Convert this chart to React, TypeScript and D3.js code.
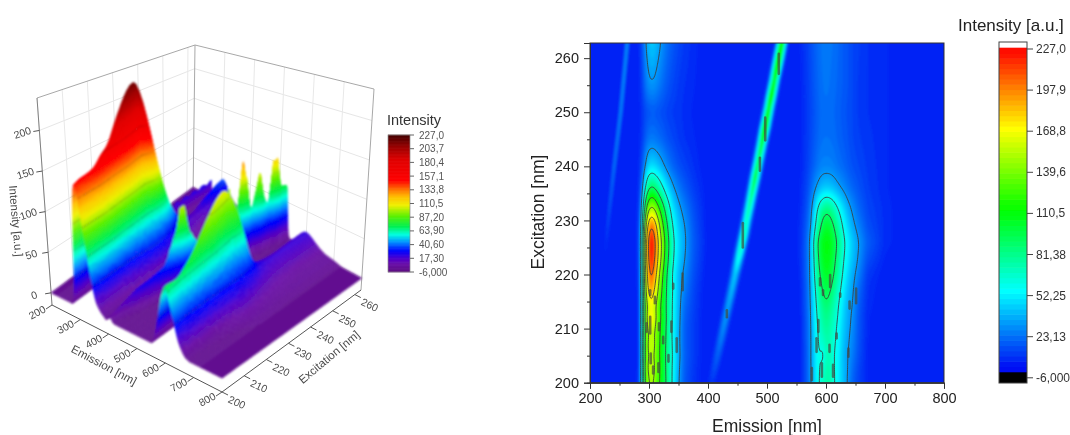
import React, { useEffect, useRef } from "react";
import * as d3 from "d3";

const FONT = "'Liberation Sans', Arial, sans-serif";
const EX_MAX = 262.8;

// intensity table: one row per excitation, one column per emission
const emission = [200, 250, 272, 283, 287, 291, 295, 300, 305, 310, 316, 322, 330, 340, 350, 360, 375, 400, 450, 520, 555, 568, 575, 582, 588, 594, 600, 606, 612, 620, 628, 636, 645, 655, 670, 700, 750, 800];
const excitation = [200, 203, 205, 207, 208.5, 210, 212, 214, 217, 220, 223, 226, 229, 232, 236, 240, 245, 250, 255, EX_MAX];
const intensity = [
  [-5, -5, -3, 6, 30, 95, 130, 145, 150, 140, 122, 105, 84, 55, 30, 14, 6, -2, -4, -3, 0, 15, 30, 45, 58, 66, 72, 75, 62, 50, 40, 29, 16, 9, 2, -2, -4, -5],
  [-5, -5, -3, 5, 29, 96, 138, 154, 160, 146, 124, 106, 82, 56, 32, 15, 7, -2, -4, -3, 0, 15, 30, 46, 59, 60, 70, 72, 61, 51, 39, 30, 19, 10, 2, -2, -4, -5],
  [-5, -5, -3, 4, 27, 90, 132, 148, 150, 142, 120, 108, 80, 58, 34, 16, 8, -2, -4, -3, 0, 15, 31, 46, 60, 52, 66, 70, 60, 52, 38, 30, 22, 12, 2, -2, -4, -5],
  [-5, -5, -3, 4, 27, 92, 134, 156, 164, 146, 122, 106, 82, 56, 33, 15, 8, -2, -4, -3, 0, 15, 30, 48, 61, 60, 70, 71, 62, 53, 40, 31, 24, 13, 2, -2, -4, -5],
  [-5, -5, -3, 5, 28, 93, 130, 148, 154, 144, 124, 106, 84, 55, 33, 15, 8, -2, -4, -3, 0, 16, 30, 49, 62, 66, 73, 72, 64, 54, 41, 32, 25, 13, 3, -2, -4, -5],
  [-5, -5, -3, 5, 28, 95, 132, 155, 162, 146, 126, 106, 84, 54, 33, 15, 8, -2, -4, -3, 0, 16, 30, 50, 62, 70, 76, 72, 66, 55, 42, 33, 26, 14, 3, -2, -4, -5],
  [-5, -5, -3, 5, 28, 98, 140, 170, 180, 155, 132, 110, 86, 56, 34, 16, 8, -2, -4, -3, 0, 16, 31, 52, 65, 74, 80, 76, 68, 58, 44, 34, 27, 14, 3, -2, -4, -5],
  [-5, -5, -3, 5, 28, 92, 132, 158, 166, 150, 128, 108, 84, 56, 34, 18, 9, -2, -4, -3, 1, 17, 32, 54, 68, 78, 84, 80, 72, 60, 46, 35, 29, 15, 4, -1, -4, -5],
  [-5, -5, -3, 5, 28, 100, 150, 185, 192, 170, 142, 115, 85, 58, 36, 22, 10, -2, -4, -3, 1, 17, 34, 58, 76, 88, 94, 90, 80, 66, 52, 38, 31, 18, 5, -1, -4, -5],
  [-5, -5, -3, 6, 30, 100, 160, 200, 212, 188, 155, 122, 88, 56, 36, 26, 12, -1, -4, -3, 2, 18, 36, 65, 84, 96, 102, 100, 90, 74, 58, 44, 33, 24, 7, 0, -3, -5],
  [-5, -5, -3, 7, 30, 105, 170, 215, 224, 206, 170, 138, 98, 62, 42, 30, 14, 0, -4, -3, 3, 18, 37, 70, 90, 103, 108, 106, 96, 80, 62, 50, 38, 28, 12, 2, -3, -5],
  [-5, -5, -3, 8, 30, 105, 172, 220, 230, 210, 174, 142, 102, 64, 44, 32, 15, 1, -4, -3, 3, 18, 38, 74, 94, 106, 110, 108, 100, 85, 66, 52, 40, 30, 16, 4, -2, -5],
  [-5, -5, -3, 7, 28, 92, 150, 195, 206, 190, 158, 126, 92, 58, 40, 30, 14, 0, -4, -3, 3, 16, 30, 58, 78, 94, 100, 98, 90, 74, 58, 44, 33, 24, 12, 4, -2, -5],
  [-5, -5, -3, 6, 22, 72, 118, 148, 156, 146, 124, 104, 76, 48, 34, 24, 12, 0, -4, -3, 2, 13, 26, 48, 66, 78, 84, 82, 74, 60, 48, 36, 27, 18, 10, 4, -2, -5],
  [-5, -5, -3, 4, 15, 40, 66, 85, 90, 85, 74, 62, 46, 32, 22, 15, 8, 0, -4, -3, 2, 10, 18, 28, 34, 38, 40, 39, 37, 32, 27, 22, 17, 13, 8, 3, -2, -5],
  [-5, -5, -3, 3, 9, 20, 34, 43, 45, 43, 38, 33, 25, 17, 12, 9, 5, -1, -4, -3, 1, 8, 13, 18, 22, 24, 24, 24, 23, 20, 18, 15, 12, 10, 7, 3, -2, -5],
  [-5, -5, -3, 2, 5, 11, 17, 21, 22, 21, 19, 17, 13, 10, 7, 5, 3, -1, -4, -3, 1, 7, 11, 15, 18, 20, 20, 20, 19, 17, 15, 13, 10, 8, 6, 3, -2, -5],
  [-5, -5, -3, 2, 4, 8, 11, 13, 14, 14, 12, 11, 9, 7, 6, 4, 2, -1, -4, -3, 1, 7, 10, 14, 17, 19, 19, 19, 18, 16, 14, 12, 10, 7, 5, 3, -2, -5],
  [-5, -5, -3, 2, 6, 14, 22, 27, 28, 27, 23, 19, 14, 10, 7, 5, 3, -1, -4, -3, 1, 7, 11, 15, 18, 20, 21, 20, 19, 17, 15, 13, 10, 7, 5, 3, -2, -5],
  [-5, -5, -3, 3, 8, 20, 31, 38, 40, 38, 33, 27, 20, 14, 10, 7, 4, -1, -4, -3, 2, 8, 12, 16, 19, 21, 22, 21, 20, 18, 15, 13, 10, 8, 5, 3, -2, -5],
];

// the two diagonal scatter lines
const scatterExcitation = [201, 227, EX_MAX];
const scatterEmission = [408, 460, 525];
const mapScatterEx = [200, 204, 208, 212, 216, 220, 224, 227, 230, 234, 238, 241, 244, 247, 249, 251, 253, 256, 258, 260, EX_MAX];
const mapScatterValue = [6, 14, 22, 28, 34, 40, 62, 72, 65, 75, 92, 85, 92, 115, 105, 100, 110, 100, 112, 118, 108];
const surfaceScatterEx = [200, 205, 210, 215, 220, 224, 226, 228, 232, 236, 240, 242, 244, 246, 247.5, 249, 251, 253, 255, 257, 258.5, 260, EX_MAX];
const surfaceScatterValue = [6, 15, 25, 30, 38, 75, 118, 70, 45, 45, 62, 108, 60, 80, 150, 75, 60, 112, 62, 62, 150, 80, 74];
const noScatterEx = [200, EX_MAX];
const noScatterValue = [0, 0];
const faintExcitation = [222, 232, 240, 250, EX_MAX];
const faintEmission = [224, 233, 241, 252, 263];
const faintValue = [0, 12, 20, 24, 27];

// broken pieces of contour in the noisy lower part of the map: emission, excitation from, to
const fleckEmission = [302, 310, 302, 296, 317, 338, 324, 341, 357, 347, 303, 316, 333, 307, 590, 607, 595, 624, 651, 640, 587, 584, 606, 638, 593, 612, 576, 618, 520, 497, 488, 459, 432];
const fleckFrom = [217.1, 215.9, 212.2, 211, 211, 211.3, 208.5, 218.3, 220.2, 208.2, 205.4, 203.6, 205.1, 203, 219.3, 219.9, 217.1, 216.5, 217.4, 215, 211.6, 208.2, 207, 206.3, 203.6, 203.3, 202.7, 209.1, 260.8, 249, 241.6, 229.5, 213.4];
const fleckTo = [216.2, 214.7, 209.1, 209.4, 209.7, 209.4, 207.3, 217.4, 217.1, 205.7, 203.6, 202, 203.9, 201.7, 218, 217.7, 216.2, 215.9, 214.7, 213.7, 209.4, 205.7, 205.7, 204.8, 201.1, 201.1, 200.5, 208.2, 257.1, 244.8, 239.2, 225, 212.1];

const mapTicks = ["227,0", "197,9", "168,8", "139,6", "110,5", "81,38", "52,25", "23,13", "-6,000"];
const surfaceTicks = ["227,0", "203,7", "180,4", "157,1", "133,8", "110,5", "87,20", "63,90", "40,60", "17,30", "-6,000"];
const mapLevels = [29.1, 58.2, 87.3, 116.4, 145.5, 174.6, 203.7];
const surfaceLevels = [33, 66, 99, 132, 165];

// the 3D view draws the two ridges taller than the colours say
const liftEx = [200, 210, 220, 226, 232, 240, EX_MAX];
const firstRidgeLift = [1, 1.02, 1.08, 1.13, 1.08, 1, 1];
const secondRidgeLift = [1, 1.1, 1.25, 1.35, 1.3, 1.1, 1];

const mapColor = d3.scaleLinear<string>()
  .domain([-6, 52.25, 110.5, 168.8, 227])
  .range(["#0000f4", "#00ffff", "#00ff00", "#ffff00", "#ff0000"]);

const surfaceColor = d3.scaleLinear<string>()
  .domain([-6, 8, 18, 30, 45, 58, 72, 90, 108, 122, 135, 150, 185, 207, 227])
  .range(["#5c0a80", "#6a10a8", "#4a00d0", "#0000ff", "#0090ff", "#00ffe0", "#00f050", "#60f000", "#f0f000", "#ffc000", "#ff7000", "#ff0000", "#e00000", "#9a0000", "#450505"]);

const num = (s: string) => +s.replace(",", ".");

// resample the table on a regular grid, smooth it a little, lay the scatter lines over it
function buildGrid(emStep: number, exCount: number, scatterEx: number[], scatterVal: number[], sigma: number, rx: number, ry: number) {
  const ems = d3.range(200, 800 + emStep / 2, emStep);
  const exs = d3.range(exCount + 1).map((i) => 200 + (i * (EX_MAX - 200)) / exCount);
  const cols = emission.map((_, c) => d3.scaleLinear(excitation, intensity.map((r) => r[c])));
  const width = ems.length;
  const height = exs.length;
  const data = new Float64Array(width * height);
  exs.forEach((ex, j) => {
    const row = d3.scaleLinear(emission, cols.map((f) => f(ex)));
    ems.forEach((em, i) => (data[j * width + i] = row(em)));
  });
  d3.blur2({ data, width, height }, rx, ry);
  const center = d3.scaleLinear(scatterExcitation, scatterEmission);
  const value = d3.scaleLinear(scatterEx, scatterVal);
  const faintCenter = d3.scaleLinear(faintExcitation, faintEmission);
  const faintVal = d3.scaleLinear(faintExcitation, faintValue).clamp(true);
  exs.forEach((ex, j) => {
    ems.forEach((em, i) => {
      const d = em - center(ex);
      const f = em - faintCenter(ex);
      const a = value(ex) * Math.exp(-(d * d) / (2 * sigma * sigma));
      const b = faintVal(ex) * Math.exp(-(f * f) / 12);
      data[j * width + i] = Math.max(data[j * width + i], a, b);
    });
  });
  return { ems, exs, data, width, height };
}

// ---- 3D box corners (pixels): em 200/800 and ex 200/max, floor and roof
const FLOOR = { a: [52, 305], b: [222, 392], c: [361, 290], d: [193, 196] };
const ROOF = { a: [37, 98], b: [224, 157], c: [374, 89], d: [195, 45] };
const uScale = d3.scaleLinear([200, 800], [0, 1]);
const vScale = d3.scaleLinear([200, EX_MAX], [0, 1]);
const tScale = d3.scaleLinear([-15, 240], [0, 1]);
const firstLift = d3.scaleLinear(liftEx, firstRidgeLift);
const secondLift = d3.scaleLinear(liftEx, secondRidgeLift);
const firstBand = d3.scaleLinear([280, 295, 340, 380], [0, 1, 1, 0]).clamp(true);
const secondBand = d3.scaleLinear([540, 560, 700, 730], [0, 1, 1, 0]).clamp(true);

function project(em: number, ex: number, z: number): [number, number] {
  const u = uScale(em), v = vScale(ex), t = tScale(z);
  const mix = (q: typeof FLOOR, k: number) =>
    (1 - u) * (1 - v) * q.a[k] + u * (1 - v) * q.b[k] + u * v * q.c[k] + (1 - u) * v * q.d[k];
  return [mix(FLOOR, 0) * (1 - t) + mix(ROOF, 0) * t, mix(FLOOR, 1) * (1 - t) + mix(ROOF, 1) * t];
}

// height of a surface point as drawn
const lifted = (em: number, ex: number, z: number) =>
  z <= 0 ? z : z * (1 + firstBand(em) * (firstLift(ex) - 1) + secondBand(em) * (secondLift(ex) - 1));

const pt = (p: [number, number]) => `${p[0].toFixed(1)},${p[1].toFixed(1)}`;

function drawSurface(g: any) {
  const { ems, exs, data, width, height } = buildGrid(3, 52, surfaceScatterEx, surfaceScatterValue, 6, 0.3, 0.7);
  const z = (j: number, i: number) => data[j * width + i];
  const items: { d: string; color: string | null }[] = [];
  const add = (d: string, color: string | null) => {
    const last = items[items.length - 1];
    if (last && last.color === color) last.d += d;
    else items.push({ d, color });
  };
  const STEP = 3;
  // far corner first so that nearer cells paint over
  for (let i = 0; i < width - 1; i++) {
    for (let j = height - 2; j >= 0; j--) {
      const z00 = z(j, i), z10 = z(j, i + 1), z01 = z(j + 1, i), z11 = z(j + 1, i + 1);
      const n = Math.min(14, Math.ceil(Math.max(Math.abs(z10 - z00), Math.abs(z11 - z01)) / STEP) || 1);
      const m = Math.min(14, Math.ceil(Math.max(Math.abs(z01 - z00), Math.abs(z11 - z10)) / STEP) || 1);
      const zAt = (a: number, b: number) => (z00 * (1 - a) + z10 * a) * (1 - b) + (z01 * (1 - a) + z11 * a) * b;
      const em = (a: number) => ems[i] + (ems[i + 1] - ems[i]) * a;
      const ex = (b: number) => exs[j] + (exs[j + 1] - exs[j]) * b;
      for (let s = 0; s < n; s++) {
        for (let r = m - 1; r >= 0; r--) {
          const a0 = s / n, a1 = (s + 1) / n, b0 = r / m, b1 = (r + 1) / m;
          const zs = [zAt(a0, b0), zAt(a1, b0), zAt(a1, b1), zAt(a0, b1)];
          const corners: [number, number][] = [[a0, b0], [a1, b0], [a1, b1], [a0, b1]];
          const P = corners.map(([a, b], k) => project(em(a), ex(b), lifted(em(a), ex(b), zs[k])));
          const mean = d3.mean(zs) as number;
          const color = surfaceColor(Math.round(mean / 2) * 2);
          add(`M${pt(P[0])}L${pt(P[1])}L${pt(P[2])}L${pt(P[3])}Z`, color);
          const lo = d3.min(zs) as number, hi = d3.max(zs) as number;
          surfaceLevels.forEach((L) => {
            if (lo < L && hi >= L) {
              const cross: [number, number][] = [];
              for (let k = 0; k < 4; k++) {
                const z1 = zs[k], z2 = zs[(k + 1) % 4];
                if ((z1 < L) !== (z2 < L)) {
                  const f = (L - z1) / (z2 - z1);
                  const A = corners[k], B = corners[(k + 1) % 4];
                  const e1 = em(A[0] + (B[0] - A[0]) * f), e2 = ex(A[1] + (B[1] - A[1]) * f);
                  cross.push(project(e1, e2, lifted(e1, e2, L)));
                }
              }
              if (cross.length >= 2) add(`M${pt(cross[0])}L${pt(cross[1])}`, null);
            }
          });
        }
      }
    }
  }
  g.selectAll("path").data(items).join("path")
    .attr("d", (d: any) => d.d)
    .attr("fill", (d: any) => d.color || "none")
    .attr("stroke", (d: any) => d.color || "#303030")
    .attr("stroke-opacity", (d: any) => (d.color ? 1 : 0.55))
    .attr("stroke-width", (d: any) => (d.color ? 0.4 : 0.7));
}

function draw3D(svg: any) {
  const z0 = -15, z1 = 240;
  const walls = svg.append("g").attr("fill", "none");
  const line = (p: [number, number], q: [number, number], stroke: string, w = 1, parent = walls) =>
    parent.append("line").attr("x1", p[0]).attr("y1", p[1]).attr("x2", q[0]).attr("y2", q[1]).attr("stroke", stroke).attr("stroke-width", w);

  // back walls
  [0, 50, 100, 150, 200].forEach((z) => {
    line(project(200, 200, z), project(200, EX_MAX, z), "#e6e6e6");
    line(project(200, EX_MAX, z), project(800, EX_MAX, z), "#e6e6e6");
  });
  [200, 210, 220, 230, 240, 250, 260].forEach((ex) => line(project(200, ex, z0), project(200, ex, z1), "#e8e8e8"));
  [300, 400, 500, 600, 700].forEach((em) => line(project(em, EX_MAX, z0), project(em, EX_MAX, z1), "#e8e8e8"));
  line(project(200, 200, z1), project(200, EX_MAX, z1), "#a8a8a8");
  line(project(200, EX_MAX, z1), project(800, EX_MAX, z1), "#a8a8a8");
  line(project(200, EX_MAX, z0), project(200, EX_MAX, z1), "#a8a8a8");
  line(project(800, EX_MAX, z0), project(800, EX_MAX, z1), "#a8a8a8");
  line(project(200, 200, z0), project(200, 200, z1), "#808080");

  const surface = svg.append("g").attr("filter", "url(#blurSurface)");
  drawSurface(surface);

  const axes = svg.append("g").attr("filter", "url(#blurText)");
  const text = (x: number, y: number, rot: number, s: string, size = 10.5) =>
    axes.append("text").attr("transform", `translate(${x},${y}) rotate(${rot})`)
      .attr("text-anchor", "middle").attr("dominant-baseline", "central")
      .attr("font-family", FONT).attr("font-size", size).attr("fill", "#4a4a4a").text(s);

  line(project(200, 200, z0), project(800, 200, z0), "#555", 1, axes);
  line(project(800, 200, z0), project(800, EX_MAX, z0), "#555", 1, axes);
  d3.range(200, 801, 100).forEach((em) => {
    const p = project(em, 200, z0);
    line(p, [p[0] - 6, p[1] + 4], "#555", 1, axes);
    text(p[0] - 15, p[1] + 7, -28, String(em));
  });
  d3.range(200, 261, 10).forEach((ex) => {
    const p = project(800, ex, z0);
    line(p, [p[0] + 6, p[1] + 3], "#555", 1, axes);
    text(p[0] + 15, p[1] + 10, 25, String(ex));
  });
  [0, 50, 100, 150, 200].forEach((z) => {
    const p = project(200, 200, z);
    line(p, [p[0] - 6, p[1] + 1], "#555", 1, axes);
    text(p[0] - 17, p[1] + 2, -18, String(z));
  });
  text(104, 365, 28, "Emission [nm]", 11.5);
  text(329, 357, -40, "Excitation [nm]", 11.5);
  text(16, 221, 85, "Intensity [a.u.]", 11.5);

  // legend
  const legend = svg.append("g").attr("filter", "url(#blurText)");
  const y = d3.scaleLinear([-6, 227], [272, 135]);
  legend.selectAll("rect").data(d3.range(-6, 227, 1)).join("rect")
    .attr("x", 388).attr("width", 22)
    .attr("y", (d: number) => y(d + 1) - 0.3).attr("height", y(0) - y(1) + 0.6)
    .attr("fill", (d: number) => surfaceColor(d + 0.5));
  legend.append("rect").attr("x", 388).attr("y", 135).attr("width", 22).attr("height", 137)
    .attr("fill", "none").attr("stroke", "#8a8a8a").attr("stroke-width", 0.7);
  surfaceTicks.forEach((s) => {
    const yy = y(num(s));
    legend.append("line").attr("x1", 410).attr("x2", 414).attr("y1", yy).attr("y2", yy).attr("stroke", "#666");
    legend.append("text").attr("x", 419).attr("y", yy).attr("dominant-baseline", "central")
      .attr("font-family", FONT).attr("font-size", 10).attr("fill", "#555").text(s);
  });
  legend.append("text").attr("x", 387).attr("y", 125).attr("font-family", FONT).attr("font-size", 14.5).attr("fill", "#333").text("Intensity");
}

function drawMap(svg: any) {
  const x = d3.scaleLinear([200, 800], [590, 944]);
  const y = d3.scaleLinear([200, EX_MAX], [382.7, 43]);
  const { data, width, height } = buildGrid(2, 157, mapScatterEx, mapScatterValue, 5, 0.6, 1.5);
  const base = buildGrid(2, 157, noScatterEx, noScatterValue, 5, 0.6, 1.5);
  const X = d3.scaleLinear([0, width - 1], [200, 800]);
  const Y = d3.scaleLinear([0, height - 1], [200, EX_MAX]);
  const path = d3.geoPath(d3.geoTransform({
    point(px: number, py: number) {
      (this as any).stream.point(x(X(px - 0.5)), y(Y(py - 0.5)));
    },
  }));
  const contours = d3.contours().size([width, height]);

  svg.append("clipPath").attr("id", "mapClip").append("rect")
    .attr("x", 590).attr("y", 43).attr("width", 354).attr("height", 339.7);
  const plot = svg.append("g").attr("clip-path", "url(#mapClip)");
  const fills = plot.append("g").attr("filter", "url(#blurMap)");
  fills.append("rect").attr("x", 585).attr("y", 38).attr("width", 365).attr("height", 350).attr("fill", mapColor(-6));
  const thresholds = d3.range(-5, 227, 2.5);
  fills.selectAll("path").data(contours.thresholds(thresholds)(Array.from(data))).join("path")
    .attr("d", (d: any) => path(d))
    .attr("fill", (d: any) => mapColor(d.value + 1.25));
  const lines = plot.append("g").attr("filter", "url(#blurLine)");
  lines.selectAll("path")
    .data(contours.thresholds(mapLevels)(Array.from(base.data))).join("path")
    .attr("d", (d: any) => path(d))
    .attr("fill", "none").attr("stroke", "#3c3c3c").attr("stroke-opacity", 0.85).attr("stroke-width", 1);
  lines.selectAll("line").data(fleckEmission).join("line")
    .attr("x1", (d: number) => x(d)).attr("x2", (d: number) => x(d))
    .attr("y1", (_: number, i: number) => y(fleckFrom[i])).attr("y2", (_: number, i: number) => y(fleckTo[i]))
    .attr("stroke", "#454a40").attr("stroke-opacity", 0.7).attr("stroke-width", 2.6).attr("stroke-linecap", "round");

  const axes = svg.append("g").attr("filter", "url(#blurText)");
  const xAxis = axes.append("g").attr("transform", "translate(0,382.7)")
    .call(d3.axisBottom(x).tickValues(d3.range(200, 801, 100)).tickSize(6).tickPadding(4));
  const yAxis = axes.append("g").attr("transform", "translate(590,0)")
    .call(d3.axisLeft(y).tickValues(d3.range(200, 261, 10)).tickSize(6).tickPadding(5));
  axes.append("g").attr("transform", "translate(0,382.7)")
    .call(d3.axisBottom(x).tickValues(d3.range(250, 800, 100)).tickSize(3).tickFormat(() => ""));
  axes.append("g").attr("transform", "translate(590,0)")
    .call(d3.axisLeft(y).tickValues(d3.range(205, 262, 10)).tickSize(3).tickFormat(() => ""));
  axes.selectAll(".domain").attr("stroke", "#333");
  axes.selectAll(".tick line").attr("stroke", "#333");
  [xAxis, yAxis].forEach((a) => a.selectAll("text").attr("font-family", FONT).attr("font-size", 14.5).attr("fill", "#222"));
  axes.append("rect").attr("x", 590).attr("y", 43).attr("width", 354).attr("height", 339.7)
    .attr("fill", "none").attr("stroke", "#333").attr("stroke-width", 1);
  axes.append("text").attr("x", 767).attr("y", 432).attr("text-anchor", "middle")
    .attr("font-family", FONT).attr("font-size", 17.5).attr("fill", "#222").text("Emission [nm]");
  axes.append("text").attr("transform", "translate(544,212) rotate(-90)").attr("text-anchor", "middle")
    .attr("font-family", FONT).attr("font-size", 17.5).attr("fill", "#222").text("Excitation [nm]");

  // colour bar
  const bar = svg.append("g").attr("filter", "url(#blurText)");
  const cy = d3.scaleLinear([-6, 227], [372, 48]);
  const band = 233 / 62;
  bar.append("rect").attr("x", 999).attr("y", 372).attr("width", 28).attr("height", 11).attr("fill", "#000");
  bar.selectAll("rect.band").data(d3.range(62).map((i) => -6 + i * band)).join("rect").attr("class", "band")
    .attr("x", 999).attr("width", 28)
    .attr("y", (d: number) => cy(d + band) - 0.3).attr("height", cy(0) - cy(band) + 0.6)
    .attr("fill", (d: number) => mapColor(d + band / 2));
  bar.append("rect").attr("x", 999).attr("y", 42).attr("width", 28).attr("height", 341)
    .attr("fill", "none").attr("stroke", "#444").attr("stroke-width", 1);
  mapTicks.forEach((s, i) => {
    const yy = 49 + i * 41.1;
    bar.append("line").attr("x1", 1027).attr("x2", 1033).attr("y1", yy).attr("y2", yy).attr("stroke", "#444");
    bar.append("text").attr("x", 1036).attr("y", yy).attr("dominant-baseline", "central")
      .attr("font-family", FONT).attr("font-size", 12).attr("fill", "#333").text(s);
  });
  bar.append("text").attr("x", 958).attr("y", 31).attr("font-family", FONT).attr("font-size", 17).attr("fill", "#222").text("Intensity [a.u.]");
}

export default function App() {
  const ref = useRef<SVGSVGElement>(null);

  useEffect(() => {
    const svg = d3.select(ref.current);
    svg.selectAll("*").remove();
    const defs = svg.append("defs");
    const blur = (id: string, s: number) =>
      defs.append("filter").attr("id", id).attr("x", "-5%").attr("y", "-5%").attr("width", "110%").attr("height", "110%")
        .append("feGaussianBlur").attr("stdDeviation", s);
    blur("blurSurface", 0.8);
    blur("blurMap", 0.9);
    blur("blurLine", 0.45);
    blur("blurText", 0.3);
    draw3D(svg);
    drawMap(svg);
  }, []);

  return (
    <svg ref={ref} width={1070} height={435}
      style={{ position: "absolute", left: 0, top: 0, background: "#fff", display: "block" }} />
  );
}
